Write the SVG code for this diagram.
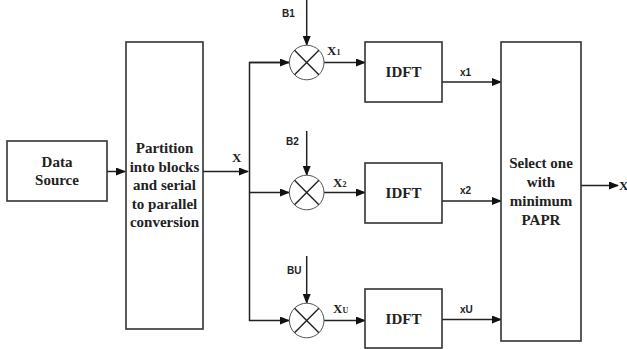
<svg xmlns="http://www.w3.org/2000/svg" width="627" height="349" viewBox="0 0 627 349">
<style>
.box{fill:#fff;stroke:#333;stroke-width:1.6}
.mix{fill:#fff;stroke:#555;stroke-width:1}
.x{stroke:#222;stroke-width:1.4}
.ln{fill:none;stroke:#222;stroke-width:1.5}
.t{font-family:"Liberation Serif","Times New Roman",serif;font-weight:bold;font-size:15px;fill:#222;text-anchor:middle}
.s{font-family:"Liberation Sans",Arial,sans-serif;font-weight:bold;font-size:10px;fill:#222}
.v{font-family:"Liberation Serif","Times New Roman",serif;font-weight:bold;font-size:13px;fill:#222}
.v tspan{font-size:8px}
</style>
<defs>
<marker id="ar" markerWidth="10" markerHeight="8" refX="9" refY="4" orient="auto" markerUnits="userSpaceOnUse">
<path d="M0,0 L10,4 L0,8 Z" fill="#111"/>
</marker>
</defs>
<g id="connectors">
<line class="ln" x1="107" y1="171.5" x2="125" y2="171.5" marker-end="url(#ar)"/>
<line class="ln" x1="203" y1="171.5" x2="248" y2="171.5" marker-end="url(#ar)"/>
<polyline class="ln" points="289,62.5 249.5,62.5 249.5,320.5 289,320.5" marker-end="url(#ar)"/>
<line class="ln" x1="249.5" y1="62.5" x2="289" y2="62.5" marker-end="url(#ar)"/>
<line class="ln" x1="249.5" y1="192.5" x2="289" y2="192.5" marker-end="url(#ar)"/>
<line class="ln" x1="306.7" y1="0" x2="306.7" y2="45" marker-end="url(#ar)"/>
<line class="ln" x1="306.7" y1="131" x2="306.7" y2="175" marker-end="url(#ar)"/>
<line class="ln" x1="306.7" y1="256" x2="306.7" y2="303" marker-end="url(#ar)"/>
<line class="ln" x1="324" y1="62.5" x2="365" y2="62.5" marker-end="url(#ar)"/>
<line class="ln" x1="324" y1="192.5" x2="365" y2="192.5" marker-end="url(#ar)"/>
<line class="ln" x1="324" y1="320.5" x2="365" y2="320.5" marker-end="url(#ar)"/>
<line class="ln" x1="442" y1="82" x2="501" y2="82" marker-end="url(#ar)"/>
<line class="ln" x1="442" y1="201" x2="501" y2="201" marker-end="url(#ar)"/>
<line class="ln" x1="442" y1="319.5" x2="501" y2="319.5" marker-end="url(#ar)"/>
<line class="ln" x1="581" y1="185.5" x2="618" y2="185.5" marker-end="url(#ar)"/>
<text class="v" x="232" y="162">X</text>
<text class="s" x="282" y="17">B1</text>
<text class="s" x="286" y="145">B2</text>
<text class="s" x="287" y="274">BU</text>
<text class="v" x="327" y="55">X<tspan>1</tspan></text>
<text class="v" x="333" y="187">X<tspan>2</tspan></text>
<text class="v" x="333" y="313">X<tspan>U</tspan></text>
<text class="s" x="460" y="76">x1</text>
<text class="s" x="460" y="194">x2</text>
<text class="s" x="460" y="313">xU</text>
<text class="v" x="619" y="190">X</text>
</g>
<g id="data-source">
<rect class="box" x="7" y="141" width="100" height="60"/>
<text class="t" x="57" y="167">Data</text>
<text class="t" x="57" y="185">Source</text>
</g>
<g id="partition">
<rect class="box" x="126" y="42" width="77" height="287"/>
<text class="t" x="164.5" y="153">Partition</text>
<text class="t" x="164.5" y="171.5">into blocks</text>
<text class="t" x="164.5" y="190">and serial</text>
<text class="t" x="164.5" y="208.5">to parallel</text>
<text class="t" x="164.5" y="227">conversion</text>
</g>
<g id="mixer1">
<circle class="mix" cx="306.7" cy="62.5" r="17.3"/>
<line class="x" x1="294.5" y1="50.3" x2="318.9" y2="74.7"/>
<line class="x" x1="318.9" y1="50.3" x2="294.5" y2="74.7"/>
</g>
<g id="mixer2">
<circle class="mix" cx="306.7" cy="192.5" r="17.3"/>
<line class="x" x1="294.5" y1="180.3" x2="318.9" y2="204.7"/>
<line class="x" x1="318.9" y1="180.3" x2="294.5" y2="204.7"/>
</g>
<g id="mixerU">
<circle class="mix" cx="306.7" cy="320.5" r="17.3"/>
<line class="x" x1="294.5" y1="308.3" x2="318.9" y2="332.7"/>
<line class="x" x1="318.9" y1="308.3" x2="294.5" y2="332.7"/>
</g>
<g id="idft1">
<rect class="box" x="365" y="42" width="77" height="60"/>
<text class="t" x="403.5" y="77">IDFT</text>
</g>
<g id="idft2">
<rect class="box" x="365" y="163" width="77" height="60"/>
<text class="t" x="403.5" y="198">IDFT</text>
</g>
<g id="idftU">
<rect class="box" x="365" y="289" width="77" height="59"/>
<text class="t" x="403.5" y="324">IDFT</text>
</g>
<g id="select">
<rect class="box" x="501" y="42" width="80" height="299"/>
<text class="t" x="541" y="168">Select one</text>
<text class="t" x="541" y="187">with</text>
<text class="t" x="541" y="206">minimum</text>
<text class="t" x="541" y="224.5">PAPR</text>
</g>
</svg>
